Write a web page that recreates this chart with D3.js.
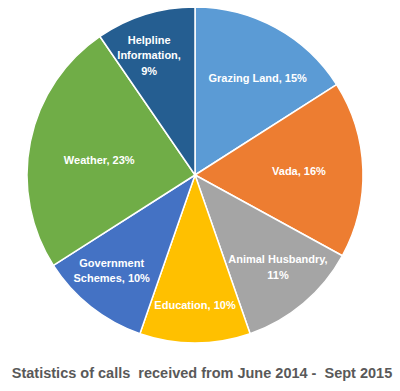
<!DOCTYPE html>
<html>
<head>
<meta charset="utf-8">
<script src="https://cdn.jsdelivr.net/npm/d3@7"></script>
<style>
  html, body { margin: 0; padding: 0; background: #ffffff; }
  svg { display: block; }
  text { font-family: "Liberation Sans", Arial, sans-serif; }
</style>
</head>
<body>
<div id="chart"></div>
<script>
// ---- data ----
const categories = ["Grazing Land", "Vada", "Animal Husbandry", "Education", "Government Schemes", "Weather", "Helpline Information"];
const values = [15, 16, 11, 10, 10, 23, 9];
const labelLines = [
  ["Grazing Land, 15%"],
  ["Vada, 16%"],
  ["Animal Husbandry,", "11%"],
  ["Education, 10%"],
  ["Government", "Schemes, 10%"],
  ["Weather, 23%"],
  ["Helpline", "Information,", "9%"]
];
const colors = ["#5B9BD5", "#ED7D31", "#A5A5A5", "#FFC000", "#4472C4", "#70AD47", "#255E91"];
const title = "Statistics of calls  received from June 2014 -  Sept 2015";

// ---- layout (label placement: radius, angle in degrees clockwise from top) ----
const labelPolar = [
  [115, 33], [104, 88], [124, 138], [130, 180], [127, 221], [97, 279], [128, 339]
];

const W = 400, H = 391;
const cx = 195, cy = 175, R = 168;

const svg = d3.select("#chart").append("svg").attr("width", W).attr("height", H);
const g = svg.append("g").attr("transform", `translate(${cx},${cy})`);

const pie = d3.pie().sort(null).value(d => d)(values);
const arc = d3.arc().innerRadius(0).outerRadius(R);

g.selectAll("path.slice").data(pie).join("path")
  .attr("class", "slice")
  .attr("d", arc)
  .attr("fill", (d, i) => colors[i])
  .attr("stroke", "#ffffff")
  .attr("stroke-width", 1.5)
  .attr("stroke-linejoin", "round");

const lh = 15.5;
const labels = g.selectAll("text.lbl").data(pie).join("text")
  .attr("class", "lbl")
  .attr("text-anchor", "middle")
  .attr("fill", "#ffffff")
  .attr("font-size", 11)
  .attr("font-weight", "bold")
  .attr("transform", (d, i) => {
    const [r, a] = labelPolar[i];
    const t = a * Math.PI / 180;
    return `translate(${r * Math.sin(t)},${-r * Math.cos(t)})`;
  });

labels.each(function(d, i) {
  const lines = labelLines[i];
  const n = lines.length;
  d3.select(this).selectAll("tspan").data(lines).join("tspan")
    .attr("x", 0)
    .attr("y", (l, k) => (k - (n - 1) / 2) * lh)
    .attr("dy", "0.35em")
    .text(l => l);
});

svg.append("text")
  .attr("x", 202)
  .attr("y", 373)
  .attr("dy", "0.35em")
  .attr("text-anchor", "middle")
  .attr("fill", "#595959")
  .attr("font-size", 14.5)
  .attr("font-weight", "bold")
  .style("white-space", "pre")
  .text(title);
</script>
</body>
</html>
